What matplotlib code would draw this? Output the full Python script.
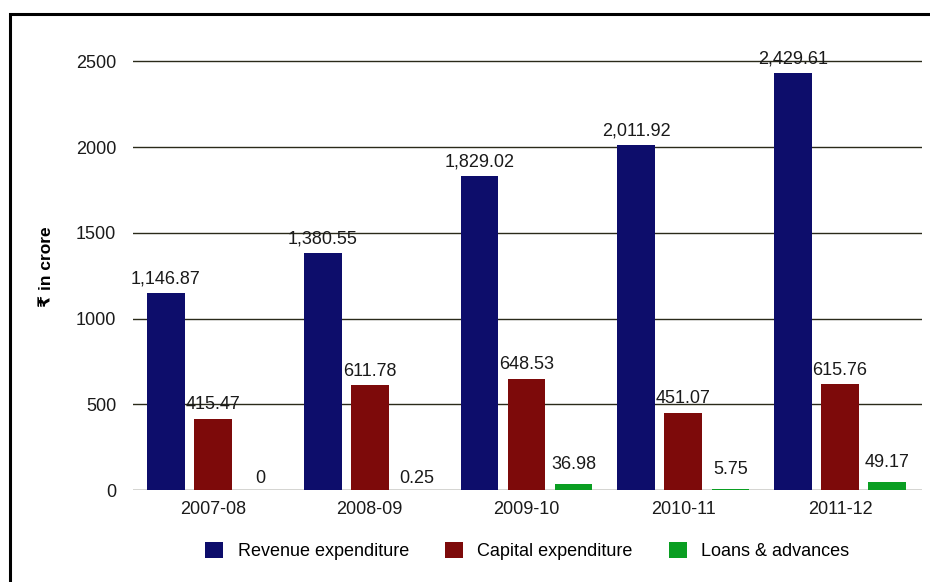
import numpy as np
import matplotlib.pyplot as plt
from matplotlib.patches import Rectangle

years = ['2007-08', '2008-09', '2009-10', '2010-11', '2011-12']
revenue = [1146.87, 1380.55, 1829.02, 2011.92, 2429.61]
capital = [415.47, 611.78, 648.53, 451.07, 615.76]
loans = [0, 0.25, 36.98, 5.75, 49.17]
series_names = ['Revenue expenditure', 'Capital expenditure', 'Loans & advances']

plt.rcParams['font.family'] = ['Liberation Sans', 'DejaVu Sans']

fig = plt.figure(figsize=(9.3, 5.82), dpi=100)
ax = fig.add_axes([0.143, 0.158, 0.848, 0.766])

x = np.arange(len(years))
w = 0.24
step = 0.3
colors = ['#0d0d6b', '#7d0a0a', '#0a9e22']


def fmt(v):
    if v == 0:
        return '0'
    return f'{v:,.2f}'


for i, (vals, col, name) in enumerate(zip([revenue, capital, loans], colors, series_names)):
    pos = x + (i - 1) * step
    ax.bar(pos, vals, width=w, color=col, label=name, zorder=3)
    for px, v in zip(pos, vals):
        dy = 4
        if i == 2:
            dy = 8 if v > 1 else 2
        ax.annotate(fmt(v), (px, v), xytext=(0, dy), textcoords='offset points',
                    ha='center', va='bottom', fontsize=13, color='#1a1a1a', zorder=4)

ax.set_xlim(-0.51, 4.52)
ax.set_ylim(0, 2600)
ax.set_yticks([0, 500, 1000, 1500, 2000, 2500])
ax.set_xticks(x)
ax.set_xticklabels(years)
ax.tick_params(axis='both', length=0, labelsize=13, colors='#1a1a1a')
ax.tick_params(axis='y', pad=12)
ax.tick_params(axis='x', pad=8)
ax.grid(axis='y', color='#2a2a1a', linewidth=1.0, zorder=0)
for s in ax.spines.values():
    s.set_visible(False)
ax.set_ylabel('₹ in crore', fontsize=12.5, fontweight='bold', labelpad=16)

ax.legend(loc='upper center', bbox_to_anchor=(0.5, -0.08), ncol=3, frameon=False,
          fontsize=13, handlelength=1.0, handleheight=1.0, columnspacing=2.0,
          handletextpad=0.8)

# outer frame from the scanned page
fig.add_artist(Rectangle((0.011, -0.2), 1.2, 1.176, transform=fig.transFigure,
                         fill=False, edgecolor='black', linewidth=2.2))

fig.savefig('out.png', dpi=100)
